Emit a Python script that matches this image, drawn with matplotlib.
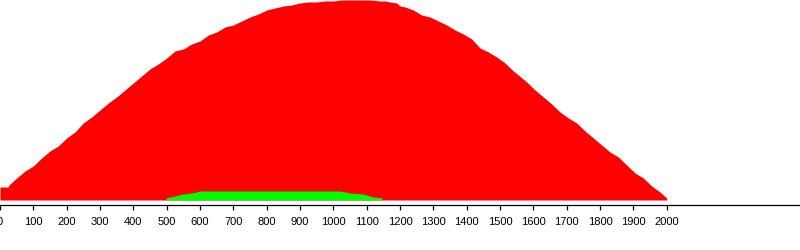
import matplotlib
matplotlib.use("Agg")
import matplotlib.pyplot as plt
from matplotlib.ticker import FixedLocator

# Red series (x position, height)
red_x = [0, 24, 27, 50, 75, 100, 125, 150, 175, 200, 225, 250, 275, 300, 325, 350,
         375, 400, 425, 450, 475, 500, 525, 550, 575, 600, 625, 650, 675, 700, 725,
         750, 775, 800, 825, 850, 875, 900, 925, 950, 975, 1000, 1025, 1050, 1080,
         1110, 1140, 1155, 1170, 1190, 1200, 1215, 1240, 1265, 1290, 1315, 1340,
         1365, 1390, 1415, 1440, 1465, 1490, 1515, 1540, 1555, 1580, 1605, 1630,
         1655, 1680, 1705, 1730, 1755, 1780, 1805, 1830, 1855, 1880, 1905, 1930,
         1955, 1980, 2000]
red_y = [13, 13, 15, 22, 29, 34, 42, 49, 54, 62, 68, 77, 83, 90, 97, 103,
         110, 117, 124, 131, 136, 142, 149, 151, 156, 159, 165, 168, 173, 175, 179,
         183, 186, 190, 192, 194, 195, 197, 198, 198, 199, 199, 200, 200, 200,
         200, 199, 199, 198, 197, 194, 193, 190, 185, 183, 179, 175,
         170, 166, 161, 152, 148, 143, 137, 129, 125, 118, 110, 103,
         96, 88, 82, 77, 69, 62, 55, 48, 43, 35, 27, 22,
         14, 8, 2]

# Green series
green_x = [498, 510, 525, 549, 576, 600, 1020, 1050, 1089, 1119, 1146]
green_y = [2, 3, 4, 6, 7, 9, 9, 7, 6, 3, 2]

tick_values = list(range(0, 2001, 100))
tick_labels = [str(v) for v in tick_values]
long_ticks = [0, 1000, 2000]

fig = plt.figure(figsize=(8, 2.5), dpi=100)
ax = fig.add_axes([0, 0.2, 1, 0.8])
ax.fill_between(red_x, 0, red_y, color="#ff0000", linewidth=0, antialiased=False)
ax.fill_between(green_x, 0, green_y, color="#00ff00", linewidth=0, antialiased=False)

ax.set_xlim(0, 2400)
ax.set_ylim(0, 200)
for s in ["top", "left", "right"]:
    ax.spines[s].set_visible(False)
ax.spines["bottom"].set_position(("outward", 3.6))
ax.spines["bottom"].set_linewidth(0.9)
ax.yaxis.set_visible(False)

ax.xaxis.set_major_locator(FixedLocator(tick_values))
ax.set_xticklabels(tick_labels, family="Liberation Sans", fontsize=8)
ax.xaxis.set_minor_locator(FixedLocator(long_ticks))
ax.tick_params(axis="x", which="major", direction="out", length=3.6, width=0.9, pad=5.0)
ax.tick_params(axis="x", which="minor", direction="out", length=7.2, width=0.9)

fig.savefig("out.png", dpi=100)
